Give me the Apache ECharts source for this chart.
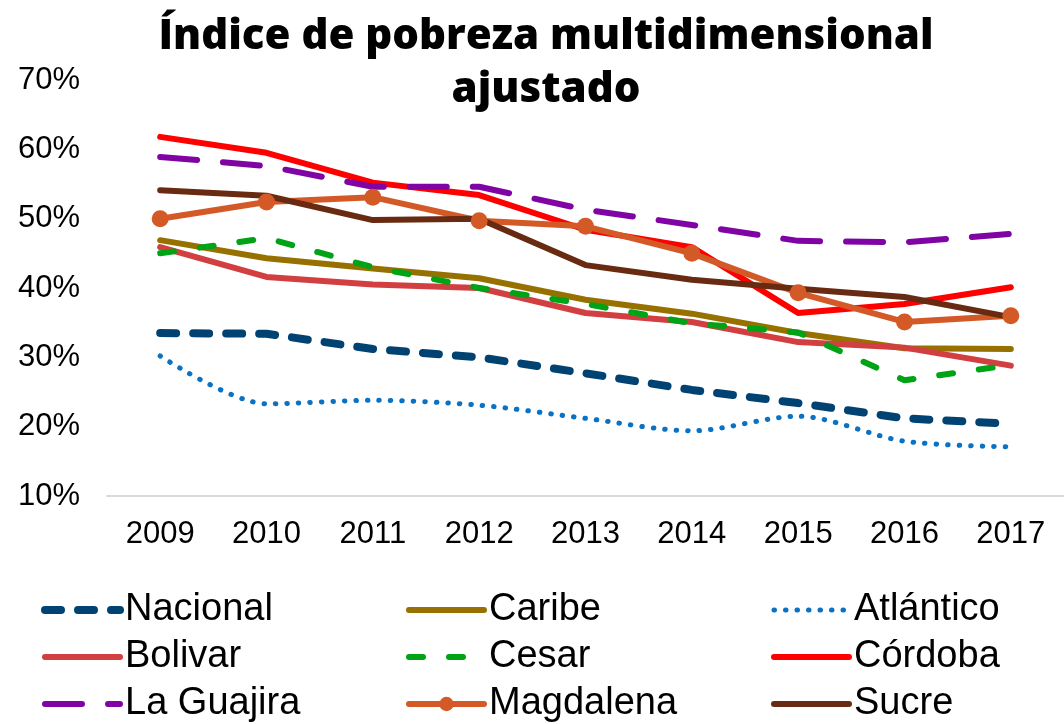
<!DOCTYPE html>
<html>
<head>
<meta charset="utf-8">
<script src="https://cdn.jsdelivr.net/npm/echarts@6/dist/echarts.min.js"></script>
<style>
  html, body { margin: 0; padding: 0; background: #fff; }
  #chart { width: 1064px; height: 724px; }
</style>
</head>
<body>
<div id="chart"></div>
<script>
var years = ['2009', '2010', '2011', '2012', '2013', '2014', '2015', '2016', '2017'];

var nacional = [33.5, 33.4, 31.2, 30.0, 27.7, 25.3, 23.4, 21.2, 20.4];
var caribe = [46.9, 44.3, 42.8, 41.4, 38.3, 36.3, 33.5, 31.3, 31.2];
var atlantico = [30.2, 23.3, 23.8, 23.1, 21.2, 19.4, 21.5, 17.9, 17.1];
var bolivar = [45.9, 41.6, 40.5, 40.0, 36.4, 35.1, 32.2, 31.4, 28.8];
var cesar = [45.0, 47.2, 43.0, 40.0, 37.7, 34.9, 33.6, 26.7, 28.9];
var cordoba = [61.8, 59.5, 55.2, 53.4, 48.4, 45.9, 36.4, 37.7, 40.1];
var laGuajira = [58.9, 57.6, 54.6, 54.6, 51.3, 49.1, 46.8, 46.6, 47.8];
var magdalena = [50.0, 52.4, 53.1, 49.7, 48.9, 45.0, 39.3, 35.1, 36.0];
var sucre = [54.1, 53.3, 49.8, 50.0, 43.3, 41.2, 39.9, 38.7, 35.8];

var yTicks = { min: 10, max: 70, step: 10 };

// nombre, datos, color, ancho, trazo, suavizado, marcador
var seriesDefs = [
  ['Nacional', nacional, '#004373', 8, [16, 17], false, false],
  ['Caribe', caribe, '#977100', 6, 'solid', false, false],
  ['Atlántico', atlantico, '#0a72c4', 5, [0.5, 11], 0.3, false],
  ['Bolivar', bolivar, '#d23f41', 6, 'solid', false, false],
  ['Cesar', cesar, '#00a316', 6, [14, 26], false, false],
  ['Córdoba', cordoba, '#ff0000', 6, 'solid', false, false],
  ['La Guajira', laGuajira, '#7f04a3', 6, [37, 26], false, false],
  ['Magdalena', magdalena, '#d35a27', 6, 'solid', false, true],
  ['Sucre', sucre, '#682b12', 6, 'solid', false, false]
];

var series = seriesDefs.map(function (d) {
  return {
    name: d[0],
    type: 'line',
    data: d[1],
    smooth: d[5],
    symbol: d[6] ? 'circle' : 'none',
    symbolSize: 17,
    showSymbol: d[6],
    itemStyle: { color: d[2] },
    lineStyle: { color: d[2], width: d[3], type: d[4], cap: 'round', join: 'round' },
    emphasis: { disabled: true },
    animation: false
  };
});

var defByName = {};
seriesDefs.forEach(function (d) { defByName[d[0]] = d; });

function legendColumn(names, left) {
  return {
    data: names.map(function (n) {
      var d = defByName[n];
      var item = { name: n, lineStyle: { width: d[3], type: d[4], cap: 'round' } };
      if (!d[6]) item.itemStyle = { opacity: 0 };
      return item;
    }),
    orient: 'vertical',
    left: left,
    top: 590,
    height: 200,
    padding: 0,
    itemWidth: 75,
    itemHeight: 18,
    itemGap: 7,
    textStyle: {
      fontFamily: 'Liberation Sans',
      fontSize: 38,
      color: '#000',
      lineHeight: 40
    },
    selectedMode: false
  };
}

var chart = echarts.init(document.getElementById('chart'));
chart.setOption({
  backgroundColor: '#fff',
  title: {
    text: 'Índice de pobreza multidimensional\najustado',
    left: 541,
    textAlign: 'center',
    top: 6,
    textStyle: {
      fontFamily: 'Open Sans',
      fontWeight: 800,
      fontSize: 42,
      lineHeight: 53,
      color: '#000'
    }
  },
  legend: [
    legendColumn(['Nacional', 'Bolivar', 'La Guajira'], 41),
    legendColumn(['Caribe', 'Cesar', 'Magdalena'], 406),
    legendColumn(['Atlántico', 'Córdoba', 'Sucre'], 771)
  ],
  grid: { left: 107, top: 80, width: 967, height: 416, containLabel: false },
  xAxis: {
    type: 'category',
    data: years,
    boundaryGap: true,
    axisLine: { lineStyle: { color: '#d9d9d9', width: 2 } },
    axisTick: { show: false },
    axisLabel: { fontFamily: 'Liberation Sans', fontSize: 31, color: '#000', margin: 23 }
  },
  yAxis: {
    type: 'value',
    min: yTicks.min,
    max: yTicks.max,
    interval: yTicks.step,
    axisLine: { show: false },
    axisTick: { show: false },
    splitLine: { show: false },
    axisLabel: {
      fontFamily: 'Liberation Sans',
      fontSize: 31,
      color: '#000',
      margin: 27,
      formatter: '{value}%'
    }
  },
  series: series
});
</script>
</body>
</html>
